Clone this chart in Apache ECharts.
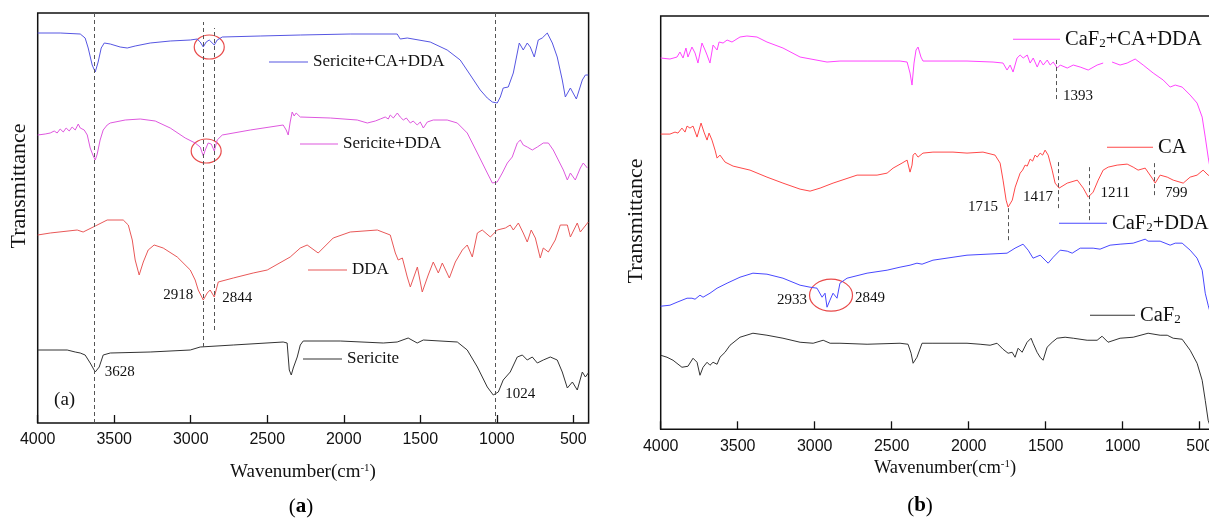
<!DOCTYPE html>
<html><head><meta charset="utf-8">
<script src="https://cdn.jsdelivr.net/npm/echarts@6.0.0/dist/echarts.min.js"></script>
<style>html,body{margin:0;padding:0;background:#fff}#c{width:1209px;height:520px}</style>
</head><body><div id="c"></div>
<script>
// ---------- tick labels ----------
const xTicks = [4000,3500,3000,2500,2000,1500,1000,500];

// ---------- panel (a) : [wavenumber, transmittance (arb.)] ----------
const sericiteCaDda = [[4000,390],[3853,390],[3722,389],[3690,385],[3670,375],[3644,358],[3624,351],[3605,361],[3585,375],[3565,380],[3526,379],[3461,376],[3415,375],[3363,377],[3265,380],[3134,382],[3003,383],[2958,384],[2938,381],[2918,376],[2899,381],[2879,383],[2866,382],[2846,378],[2827,383],[2794,386],[2546,387],[2284,388],[1958,389],[1651,389],[1631,384],[1585,385],[1435,381],[1324,373],[1239,363],[1173,348],[1108,333],[1062,325],[1029,321],[997,320],[977,326],[958,335],[925,336],[892,350],[853,380],[827,373],[801,380],[781,376],[755,366],[729,383],[703,385],[670,390],[637,380],[605,366],[572,343],[552,326],[519,335],[480,324],[441,343],[421,348],[402,348]];
const sericiteDda = [[4000,288],[3951,289],[3918,290],[3892,292],[3873,290],[3853,294],[3833,291],[3814,295],[3794,292],[3775,296],[3755,293],[3735,299],[3722,295],[3709,297],[3696,293],[3676,288],[3657,275],[3637,267],[3624,263],[3611,269],[3592,283],[3572,293],[3546,298],[3526,300],[3428,303],[3330,304],[3232,302],[3134,295],[3036,285],[2971,280],[2938,276],[2918,267],[2905,273],[2886,280],[2866,279],[2846,272],[2827,283],[2794,288],[2611,293],[2396,298],[2376,293],[2363,288],[2350,301],[2337,311],[2324,307],[2311,310],[2284,306],[2088,305],[1912,303],[1846,300],[1794,302],[1761,304],[1729,306],[1709,304],[1696,308],[1676,305],[1650,310],[1631,306],[1611,303],[1591,305],[1565,300],[1546,302],[1520,298],[1500,301],[1480,295],[1454,301],[1415,303],[1324,303],[1258,300],[1193,290],[1127,270],[1062,250],[1029,240],[997,241],[964,250],[931,260],[899,266],[866,280],[846,283],[827,278],[801,276],[768,273],[735,276],[696,280],[663,280],[631,273],[598,263],[565,253],[539,243],[519,250],[487,243],[454,255],[435,260],[408,255]];
const dda = [[4000,188],[3918,190],[3742,193],[3703,191],[3624,197],[3546,203],[3441,203],[3408,198],[3382,183],[3363,163],[3337,148],[3310,161],[3278,173],[3239,178],[3180,175],[3088,166],[3003,153],[2971,143],[2951,133],[2918,123],[2892,130],[2873,133],[2846,126],[2820,141],[2722,145],[2592,150],[2500,153],[2350,166],[2284,175],[2239,178],[2167,170],[2069,185],[1958,191],[1781,193],[1696,188],[1663,170],[1644,163],[1617,165],[1585,146],[1565,136],[1519,156],[1487,131],[1448,148],[1415,161],[1382,150],[1356,160],[1310,145],[1271,161],[1225,173],[1193,178],[1160,166],[1127,190],[1095,193],[1042,186],[997,193],[944,195],[912,198],[892,193],[859,200],[827,190],[801,181],[775,193],[748,185],[716,165],[696,175],[663,171],[618,183],[585,198],[539,198],[519,186],[474,200],[454,191],[402,201]];
const sericite = [[4000,73],[3807,73],[3755,71],[3722,70],[3690,68],[3657,60],[3624,51],[3598,56],[3572,68],[3526,70],[3265,71],[3003,73],[2938,76],[2722,78],[2396,81],[2370,80],[2356,53],[2343,48],[2330,55],[2304,66],[2284,78],[2265,82],[2023,82],[1742,80],[1651,81],[1579,85],[1520,80],[1480,83],[1258,81],[1193,73],[1127,56],[1062,36],[1023,28],[990,31],[958,43],[912,51],[866,66],[833,68],[801,63],[768,66],[735,60],[696,63],[650,66],[605,63],[572,51],[539,35],[506,41],[474,33],[441,51],[421,46],[402,50]];

// ---------- panel (b) ----------
const caf2CaDda = [[4000,371],[3940,370],[3894,372],[3875,377],[3855,371],[3836,381],[3823,372],[3797,382],[3777,376],[3758,366],[3732,386],[3712,379],[3699,374],[3680,366],[3660,384],[3634,379],[3621,387],[3595,386],[3569,389],[3537,387],[3485,392],[3440,393],[3375,392],[3310,387],[3206,381],[3095,372],[2920,367],[2836,368],[2660,368],[2446,368],[2400,367],[2381,356],[2368,344],[2355,366],[2342,379],[2329,382],[2310,372],[2297,368],[2011,368],[1842,367],[1777,366],[1751,359],[1731,364],[1712,357],[1686,371],[1666,374],[1646,371],[1620,374],[1601,366],[1581,371],[1555,362],[1536,369],[1516,364],[1490,369],[1471,364],[1451,367],[1425,361],[1406,364],[1360,361],[1321,364],[1276,362],[1224,359],[1166,364],[1127,366],[1098,'-'],[1069,367],[1017,364],[971,366],[919,370],[867,364],[802,356],[737,349],[692,342],[659,344],[614,342],[562,334],[517,326],[484,312],[464,292],[445,272],[420,250]];
const ca = [[4000,295],[3940,295],[3907,297],[3888,296],[3862,301],[3842,297],[3829,303],[3810,301],[3790,303],[3764,292],[3738,306],[3719,297],[3699,289],[3686,296],[3667,289],[3647,279],[3634,271],[3615,274],[3582,267],[3530,263],[3420,259],[3310,252],[3206,246],[3095,240],[3030,238],[2965,241],[2881,246],[2725,254],[2595,254],[2530,256],[2491,261],[2433,266],[2400,269],[2381,257],[2368,264],[2361,274],[2348,276],[2329,272],[2297,276],[2232,277],[2102,277],[2011,276],[1907,277],[1829,274],[1796,266],[1777,249],[1757,229],[1744,222],[1717,229],[1698,242],[1666,256],[1650,259],[1634,264],[1620,263],[1601,270],[1585,268],[1569,274],[1555,272],[1536,276],[1520,274],[1504,279],[1484,274],[1458,259],[1439,246],[1413,241],[1360,246],[1295,249],[1256,241],[1224,232],[1192,237],[1159,249],[1127,259],[1094,262],[1036,264],[971,265],[932,262],[900,259],[854,261],[809,251],[789,246],[757,254],[711,252],[672,249],[607,246],[562,252],[517,254],[478,259],[445,254],[420,252]];
const caf2Dda = [[4000,123],[3940,124],[3894,127],[3829,131],[3797,131],[3777,130],[3745,134],[3725,132],[3680,136],[3634,141],[3569,146],[3485,152],[3401,156],[3310,155],[3206,151],[3095,144],[3030,142],[2985,141],[2952,132],[2933,136],[2920,122],[2901,129],[2881,136],[2855,131],[2836,146],[2790,151],[2660,156],[2530,159],[2446,162],[2381,164],[2336,166],[2303,165],[2232,169],[2011,174],[1751,176],[1699,181],[1647,185],[1614,179],[1582,171],[1536,174],[1484,166],[1451,172],[1406,179],[1360,178],[1328,176],[1276,181],[1192,181],[1147,180],[1082,184],[1017,185],[932,186],[854,190],[835,188],[757,188],[692,184],[659,186],[614,186],[562,179],[517,171],[484,159],[464,136],[445,124],[420,110]];
const caf2 = [[4000,74],[3959,72],[3920,69],[3862,62],[3823,63],[3790,71],[3764,67],[3745,54],[3725,62],[3699,67],[3680,64],[3660,67],[3634,65],[3615,72],[3582,77],[3550,84],[3485,92],[3401,96],[3310,94],[3206,91],[3095,87],[3010,86],[2945,89],[2900,86],[2836,86],[2660,85],[2446,86],[2394,85],[2374,76],[2361,66],[2336,72],[2303,86],[2232,86],[2011,86],[1926,85],[1861,84],[1816,86],[1777,80],[1744,76],[1718,77],[1699,72],[1679,81],[1653,77],[1621,87],[1595,91],[1582,86],[1556,77],[1536,72],[1517,69],[1491,82],[1458,87],[1426,91],[1374,92],[1321,91],[1231,89],[1166,89],[1134,93],[1095,87],[1017,91],[932,92],[835,96],[757,94],[711,94],[672,91],[614,90],[562,79],[517,66],[484,49],[464,29],[445,9],[425,0]];

// ---------- annotations (data coordinates) ----------
const aDashes = [[3628,0,410],[2918,76,401],[2844,93,395],[1012,0,410]];
const bDashes = [[1433,330,369],[1744,189,222],[1418,221,267],[1219,209,264],[796,234,269]];
const aNotes = [['2918',3082,128],['2844',2696,125],['3628',3464,51],['1024',846,29]];
const bNotes = [['1393',1290,333],['1715',1907,222],['1417',1550,232],['1211',1049,236],['799',653,236],['2933',3147,129],['2849',2641,131]];
const aCircles = [[2879,376],[2899,272]];
const bCircles = [[2894,134]];

const SERIF = '"Liberation Serif","Times New Roman",serif';
const SANS = '"Liberation Sans",Arial,sans-serif';
const chart = echarts.init(document.getElementById('c'));

function xAx(g){
  return {type:'value', gridIndex:g, inverse:true, min:400, max:4000,
    axisLine:{show:false}, splitLine:{show:false},
    axisTick:{show:true, inside:true, length:8, customValues:xTicks, lineStyle:{color:'#111', width:1.3}},
    axisLabel:{customValues:xTicks, margin:9, fontFamily:SANS, fontSize:16, color:'#111', formatter:v=>String(v)}};
}
function dashLines(list){
  return {silent:true, symbol:['none','none'], animation:false, label:{show:false},
    lineStyle:{type:[4,3], color:'#555', width:1},
    data:list.map(d=>[{coord:[d[0],d[1]]},{coord:[d[0],d[2]]}])};
}
function ser(name, data, color, g, extra){
  return Object.assign({type:'line', name, data, xAxisIndex:g, yAxisIndex:g, symbol:'none',
    lineStyle:{color, width:1}, itemStyle:{color}, animation:false, silent:true}, extra||{});
}
const richNames = {
  'CaF2+CA+DDA':'{n|CaF}{s|2}{n|+CA+DDA}', 'CA':'{n|CA}', 'CaF2+DDA':'{n|CaF}{s|2}{n|+DDA}', 'CaF2':'{n|CaF}{s|2}'
};
function leg(name, left, cy, w, big){
  const fs = big ? 20.5 : 17;
  return {data:[name], left, top:cy-fs/2+1, icon:'rect', itemWidth:w, itemHeight:1.2, itemGap:0, padding:0, selectedMode:false,
    formatter: n => big ? richNames[n] : n,
    textStyle:{fontFamily:SERIF, fontSize:fs, color:'#111',
      rich:{n:{fontFamily:SERIF, fontSize:fs, color:'#111'}, s:{fontFamily:SERIF, fontSize:13, color:'#111', verticalAlign:'bottom'}}}};
}

chart.setOption({
  animation:false,
  grid:[
    {left:37.7, top:13, width:550.9, height:410, show:true, borderColor:'#111', borderWidth:1.5, backgroundColor:'transparent', outerBoundsMode:'none', containLabel:false},
    {left:660.7, top:16, width:554.4, height:413.3, show:true, borderColor:'#111', borderWidth:1.5, backgroundColor:'transparent', outerBoundsMode:'none', containLabel:false}
  ],
  xAxis:[xAx(0), xAx(1)],
  yAxis:[{type:'value', gridIndex:0, min:0, max:410, show:false},{type:'value', gridIndex:1, min:0, max:413, show:false}],
  legend:[
    leg('Sericite+CA+DDA',269,61,39,false), leg('Sericite+DDA',300,143,38,false),
    leg('DDA',308,269,39,false), leg('Sericite',303,358,39,false),
    leg('CaF2+CA+DDA',1013,38,47,true), leg('CA',1107,146,46,true),
    leg('CaF2+DDA',1059,222,48,true), leg('CaF2',1090,314,45,true)
  ],
  series:[
    ser('Sericite+CA+DDA', sericiteCaDda, '#5656e2', 0, {markLine:dashLines(aDashes)}),
    ser('Sericite+DDA', sericiteDda, '#de58de', 0),
    ser('DDA', dda, '#e85858', 0),
    ser('Sericite', sericite, '#333333', 0),
    ser('CaF2+CA+DDA', caf2CaDda, '#ff44ff', 1, {markLine:dashLines(bDashes)}),
    ser('CA', ca, '#ff4848', 1),
    ser('CaF2+DDA', caf2Dda, '#4848ff', 1),
    ser('CaF2', caf2, '#333333', 1)
  ]
});

const P = (g, x, y) => chart.convertToPixel({gridIndex:g}, [x, y]);
const gfx = [];
aNotes.forEach(n=>{const p=P(0,n[1],n[2]); gfx.push({type:'text', x:p[0], y:p[1], silent:true, style:{text:n[0], fontFamily:SERIF, fontSize:15, fill:'#111', align:'center', verticalAlign:'middle'}});});
bNotes.forEach(n=>{const p=P(1,n[1],n[2]); gfx.push({type:'text', x:p[0], y:p[1], silent:true, style:{text:n[0], fontFamily:SERIF, fontSize:15, fill:'#111', align:'center', verticalAlign:'middle'}});});
aCircles.forEach(c=>{const p=P(0,c[0],c[1]); gfx.push({type:'ellipse', silent:true, shape:{cx:p[0], cy:p[1], rx:15, ry:12}, style:{fill:'none', stroke:'#e84a4a', lineWidth:1.2}});});
bCircles.forEach(c=>{const p=P(1,c[0],c[1]); gfx.push({type:'ellipse', silent:true, shape:{cx:p[0], cy:p[1], rx:21.5, ry:16}, style:{fill:'none', stroke:'#e84a4a', lineWidth:1.2}});});
const pa = P(0, 3824, 23);
gfx.push({type:'text', x:pa[0], y:pa[1], silent:true, style:{text:'(a)', fontFamily:SERIF, fontSize:19, fill:'#111', align:'center', verticalAlign:'middle'}});
// axis titles & captions
[[19,186],[636,221]].forEach(t=>gfx.push({type:'text', x:t[0], y:t[1], rotation:Math.PI/2, silent:true,
  style:{text:'Transmittance', fontFamily:SERIF, fontSize:22, fill:'#111', align:'center', verticalAlign:'middle'}}));
[[303,472,19],[945,468,18.5]].forEach(t=>gfx.push({type:'text', x:t[0], y:t[1], silent:true,
  style:{text:'{t|Wavenumber(cm}{s|-1}{t|)}', align:'center', verticalAlign:'middle',
    rich:{t:{fontFamily:SERIF, fontSize:t[2], fill:'#111', color:'#111'}, s:{fontFamily:SERIF, fontSize:11, fill:'#111', color:'#111', verticalAlign:'top'}}}}));
[[301,507,'a'],[920,506,'b']].forEach(t=>gfx.push({type:'text', x:t[0], y:t[1], silent:true,
  style:{text:'{p|(}{b|'+t[2]+'}{p|)}', align:'center', verticalAlign:'middle',
    rich:{p:{fontFamily:SERIF, fontSize:21, color:'#111'}, b:{fontFamily:SERIF, fontSize:21, fontWeight:'bold', color:'#111'}}}}));
chart.setOption({graphic:gfx});
</script></body></html>
